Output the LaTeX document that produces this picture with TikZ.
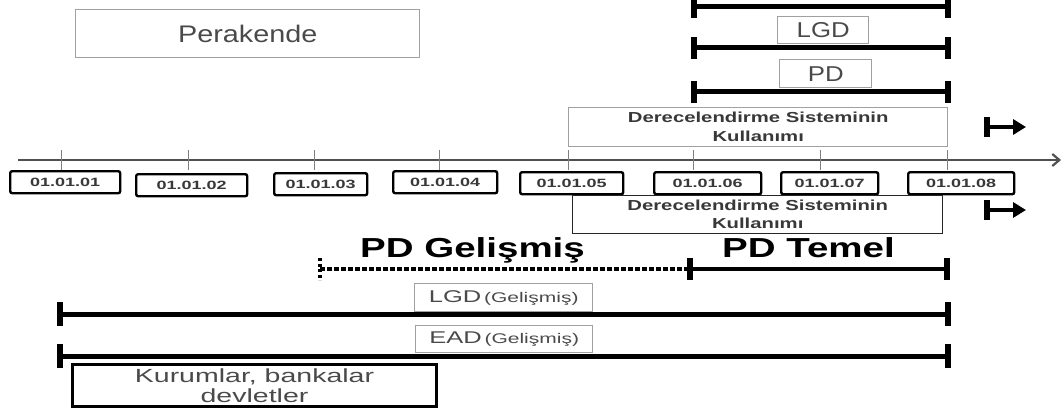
\documentclass[tikz,border=0pt]{standalone}
\usepackage{fontspec}
\setmainfont{Liberation Sans}
\newfontfamily\fa[FakeStretch=1.2]{Liberation Sans}
\newfontfamily\fb[FakeStretch=1.4]{Liberation Sans}
\newfontfamily\fc[FakeStretch=1.5]{Liberation Sans}
\usetikzlibrary{arrows.meta}
\definecolor{txtgray}{HTML}{4A4A4A}
\definecolor{datetxt}{HTML}{383838}
\definecolor{boxgray}{HTML}{A0A0A0}
\definecolor{axisgray}{HTML}{505050}
\newcommand\fsz[2]{\fontsize{#1}{#2}\selectfont}
\begin{document}
\begin{tikzpicture}[x=1pt,y=-1pt,
  gbox/.style={draw=boxgray, line width=1.4pt, anchor=north west, inner sep=0pt, text=txtgray, align=center},
  dbox/.style={draw=black, line width=2.4pt, rounded corners=2pt, anchor=north west, inner sep=0pt, text=datetxt, font=\fc\bfseries\fsz{12}{12}},
  kbox/.style={draw=black, line width=3pt, anchor=north west, inner sep=0pt, text=txtgray, align=center, font=\fc\fsz{19}{20}},
  derbox/.style={anchor=north west, inner sep=0pt, text=datetxt, align=center},
  barline/.style={line width=5pt},
  barend/.style={line width=6.5pt},
  axisline/.style={draw=axisgray, line width=2.2pt},
  tickline/.style={draw=gray, line width=1pt},
  bigtxt/.style={anchor=base west, inner sep=0pt, font=\fb\bfseries\fsz{27.5}{30}},
  startmark/.style={line width=5.5pt},
  startarrow/.style={line width=4pt, -{Triangle[length=13pt,width=15pt]}},
]
\useasboundingbox (0,0) rectangle (1062,409);

% --- top region
\node[gbox, minimum width=344pt, minimum height=48pt, font=\fa\fsz{24}{26}] (perak) at (75,9) {Perakende};
\node[gbox, minimum width=91pt, minimum height=27pt, font=\fa\fsz{21.5}{22}] (lgdT) at (777,16) {LGD};
\node[gbox, minimum width=92pt, minimum height=28pt, font=\fa\fsz{21.5}{22}] (pdT) at (779,59) {PD};

% top bars
\coordinate (t1a) at (694,7);  \coordinate (t1b) at (948,7);
\coordinate (t2a) at (694,48); \coordinate (t2b) at (948,48);
\coordinate (t3a) at (694,92); \coordinate (t3b) at (948,92);
\draw[barline] (t1a) -- (t1b);
\draw[barline] (t2a) -- (t2b);
\draw[barline] (t3a) -- (t3b);
\foreach \c in {t1a,t1b,t2a,t2b,t3a,t3b}{
  \draw[barend] ([yshift=11pt]\c) -- ([yshift=-11pt]\c);
}

\node[derbox, draw=boxgray, line width=1.4pt, minimum width=379pt, minimum height=39pt, font=\fb\bfseries\fsz{14.5}{19}] (derT) at (568,107) {Derecelendirme Sisteminin\\Kullanımı};

% start marks
\coordinate (sA) at (987,127);
\coordinate (sAe) at (1026,127);
\draw[startmark] ([yshift=10pt]sA) -- ([yshift=-10pt]sA);
\draw[startarrow] (sA) -- (sAe);
\coordinate (sB) at (987,210);
\coordinate (sBe) at (1026,210);
\draw[startmark] ([yshift=10pt]sB) -- ([yshift=-10pt]sB);
\draw[startarrow] (sB) -- (sBe);

% --- axis
\coordinate (ax0) at (18,160);
\coordinate (ax1) at (1061,160);
\draw[axisline, -{Straight Barb[length=7pt,width=12pt]}] (ax0) -- (ax1);
\foreach \x in {61,188,314,439,568,693,820,947}{
  \draw[tickline] (\x,150) -- (\x,170);
}

% date boxes
\node[dbox, minimum width=110pt, minimum height=22pt] (d01) at (9,170)   {01.01.01};
\node[dbox, minimum width=111pt, minimum height=22pt] (d02) at (135,173) {01.01.02};
\node[dbox, minimum width=93pt,  minimum height=22pt] (d03) at (273,172) {01.01.03};
\node[dbox, minimum width=104pt, minimum height=22pt] (d04) at (392,170) {01.01.04};
\node[dbox, minimum width=103pt, minimum height=22pt] (d05) at (519,171) {01.01.05};
\node[dbox, minimum width=107pt, minimum height=22pt] (d06) at (653,171) {01.01.06};
\node[dbox, minimum width=97pt,  minimum height=22pt] (d07) at (780,171) {01.01.07};
\node[dbox, minimum width=106pt, minimum height=22pt] (d08) at (907,171) {01.01.08};

\node[derbox, draw=black!85, line width=1.4pt, minimum width=370pt, minimum height=38pt, font=\fb\bfseries\fsz{14.5}{18}] (derB) at (572,195) {Derecelendirme Sisteminin\\Kullanımı};

% --- PD lines
\node[bigtxt] (pdg) at (360,257) {PD Gelişmiş};
\node[bigtxt] (pdt) at (722,257) {PD Temel};
\coordinate (pg0) at (320,269);
\coordinate (pg1) at (690,269);
\coordinate (pg2) at (947,269);
\draw[line width=4pt, dash pattern=on 4.5pt off 2.5pt] (pg0) -- (pg1);
\draw[line width=4pt, dash pattern=on 3pt off 2.5pt] ([yshift=11pt]pg0) -- ([yshift=-11pt]pg0);
\draw[line width=4pt] (pg1) -- (pg2);
\draw[barend] ([yshift=11pt]pg1) -- ([yshift=-11pt]pg1);
\draw[barend] ([yshift=11pt]pg2) -- ([yshift=-11pt]pg2);

% --- LGD / EAD advanced
\node[gbox, minimum width=178pt, minimum height=28pt] (lgdG) at (414,283) {{\fc\fsz{17}{18}LGD} {\fc\fsz{14}{14}(Gelişmiş)}};
\coordinate (l0) at (60,314); \coordinate (l1) at (948,314);
\draw[barline] (l0) -- (l1);
\draw[barend] ([yshift=12pt]l0) -- ([yshift=-12pt]l0);
\draw[barend] ([yshift=12pt]l1) -- ([yshift=-12pt]l1);

\node[gbox, minimum width=177pt, minimum height=27pt] (eadG) at (415,325) {{\fc\fsz{17}{18}EAD} {\fc\fsz{14}{14}(Gelişmiş)}};
\coordinate (e0) at (60,356); \coordinate (e1) at (948,356);
\draw[barline] (e0) -- (e1);
\draw[barend] ([yshift=12pt]e0) -- ([yshift=-12pt]e0);
\draw[barend] ([yshift=12pt]e1) -- ([yshift=-12pt]e1);

\node[kbox, minimum width=364pt, minimum height=42pt] (kur) at (71,363) {Kurumlar, bankalar\\devletler};
\end{tikzpicture}
\end{document}
